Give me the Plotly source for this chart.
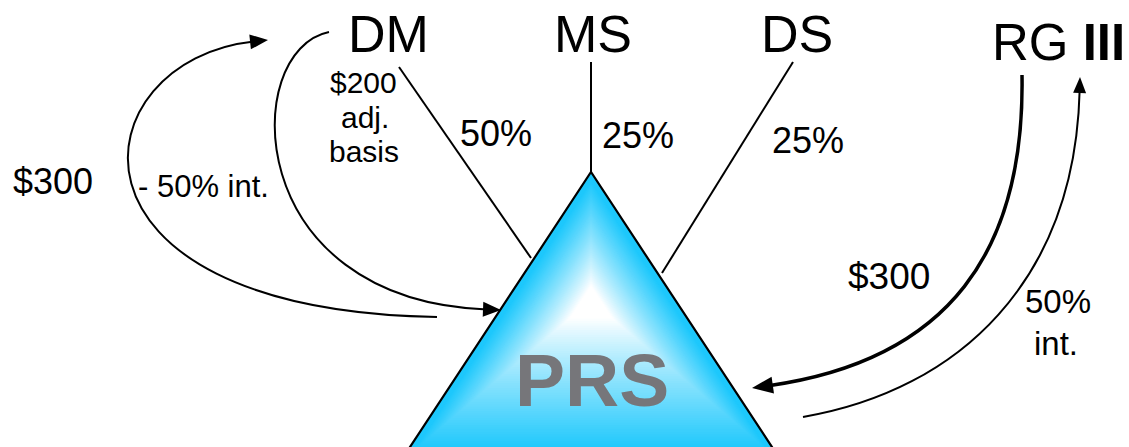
import numpy as np
import plotly.graph_objects as go

# ---- diagram content ----
owners = ["DM", "MS", "DS"]
owner_pcts = ["50%", "25%", "25%"]
partner_name = "RG"
partner_numeral = "III"
entity = "PRS"
dm_basis_lines = ["$200", "adj.", "basis"]
dm_contribution = "$300"
dm_distribution = "- 50% int."
rg_contribution = "$300"
rg_interest_lines = ["50%", "int."]

W, H = 1129, 447
FONT = "Liberation Sans, Arial, sans-serif"

fig = go.Figure()
fig.add_trace(go.Scatter(x=[0, W], y=[0, H], mode="markers",
                         marker=dict(opacity=0), hoverinfo="skip", showlegend=False))

shapes = []
annotations = []

# ---- triangle with path gradient ----
apex = np.array([591.0, 172.0])
base_y = 462.0
half_slope = 181.0 / 275.0
left = np.array([apex[0] - half_slope * (base_y - apex[1]), base_y])
right = np.array([apex[0] + half_slope * (base_y - apex[1]), base_y])
center = np.array([591.0, 300.0])
cyan = np.array([30.0, 200.0, 252.0])
white = np.array([255.0, 255.0, 255.0])

n_layers = 70
for i in range(n_layers):
    s = 1.0 - i / n_layers
    t = np.clip((s - 0.12) / (0.93 - 0.12), 0, 1)
    f = t ** 0.9
    col = white + (cyan - white) * f
    pts = [center + (p - center) * s for p in (apex, left, right)]
    path = "M {:.2f} {:.2f} L {:.2f} {:.2f} L {:.2f} {:.2f} Z".format(
        pts[0][0], pts[0][1], pts[1][0], pts[1][1], pts[2][0], pts[2][1])
    shapes.append(dict(type="path", path=path, xref="x", yref="y",
                       fillcolor="rgb({:.0f},{:.0f},{:.0f})".format(*col),
                       line=dict(width=0), layer="below"))

# triangle outline (two visible sides)
shapes.append(dict(type="path",
                   path="M {:.2f} {:.2f} L {:.2f} {:.2f} L {:.2f} {:.2f}".format(
                       left[0], left[1], apex[0], apex[1], right[0], right[1]),
                   xref="x", yref="y", line=dict(color="black", width=2.2)))

# ---- ownership lines ----
own_lines = [((399, 67), (531, 258)), ((591, 62), (591, 172)), ((793, 62), (662, 273))]
for (x0, y0), (x1, y1) in own_lines:
    shapes.append(dict(type="line", x0=x0, y0=y0, x1=x1, y1=y1, xref="x", yref="y",
                       line=dict(color="black", width=2)))


def arrow(p0, p1, p2, p3, width, head_len, head_w, head=True):
    p0, p1, p2, p3 = map(np.array, (p0, p1, p2, p3))
    if head:
        u = (p3 - p2) / np.linalg.norm(p3 - p2)
        nrm = np.array([-u[1], u[0]])
        end = p3 - u * head_len * 0.8
        basec = p3 - u * head_len
        c1 = basec + nrm * head_w / 2
        c2 = basec - nrm * head_w / 2
        shapes.append(dict(type="path",
                           path="M {:.2f} {:.2f} L {:.2f} {:.2f} L {:.2f} {:.2f} Z".format(
                               p3[0], p3[1], c1[0], c1[1], c2[0], c2[1]),
                           xref="x", yref="y", fillcolor="black", line=dict(width=0)))
    else:
        end = p3
    shapes.append(dict(type="path",
                       path="M {:.2f} {:.2f} C {:.2f} {:.2f} {:.2f} {:.2f} {:.2f} {:.2f}".format(
                           p0[0], p0[1], p1[0], p1[1], p2[0], p2[1], end[0], end[1]),
                       xref="x", yref="y", line=dict(color="black", width=width)))


# DM contribution loop (PRS -> DM)
arrow((437, 317), (40, 310), (80, 60), (268, 40), 2, 18, 15)
# DM distribution (DM -> PRS)
arrow((329, 32), (240, 50), (240, 300), (501, 310), 2, 18, 15)
# RG III contribution (thick)
arrow((1022, 75), (1025, 250), (950, 360), (752, 388), 3.5, 21, 17)
# RG III interest
arrow((803, 417), (960, 390), (1075, 280), (1080, 77), 2, 16, 13)


def label(text, x, y, size, color="black", bold=False, xanchor="center"):
    annotations.append(dict(x=x, y=y, xref="x", yref="y", text=("<b>%s</b>" % text) if bold else text,
                            showarrow=False, xanchor=xanchor, yanchor="middle",
                            font=dict(family=FONT, size=size, color=color)))


# owner names
for name, x in zip(owners, [388, 593, 797]):
    label(name, x, 34, 52)
label(partner_name + " <b>" + partner_numeral + "</b>", 1058, 42, 51)

# ownership percentages
for pct, (x, y) in zip(owner_pcts, [(496, 133), (638, 135), (808, 140)]):
    label(pct, x, y, 36)

# left side texts
label(dm_contribution, 53, 181, 36)
label(dm_distribution, 203, 186, 31)
for txt, (x, y) in zip(dm_basis_lines, [(363, 82.5), (365, 117.5), (364, 151.5)]):
    label(txt, x, y, 30)

# right side texts
label(rg_contribution, 889, 276.5, 37)
for txt, (x, y) in zip(rg_interest_lines, [(1058, 301.5), (1056, 343.5)]):
    label(txt, x, y, 33)

# entity
label(entity, 592, 380, 75, color="rgb(118,118,122)", bold=True)

fig.update_layout(
    width=W, height=H,
    margin=dict(l=0, r=0, t=0, b=0),
    paper_bgcolor="white", plot_bgcolor="white",
    xaxis=dict(range=[0, W], visible=False, fixedrange=True),
    yaxis=dict(range=[H, 0], visible=False, fixedrange=True),
    shapes=shapes, annotations=annotations, showlegend=False,
)

fig.write_html("out.html", config={"displayModeBar": False},
               post_script="document.body.style.margin='0';document.body.style.padding='0';document.body.style.overflow='hidden';")
